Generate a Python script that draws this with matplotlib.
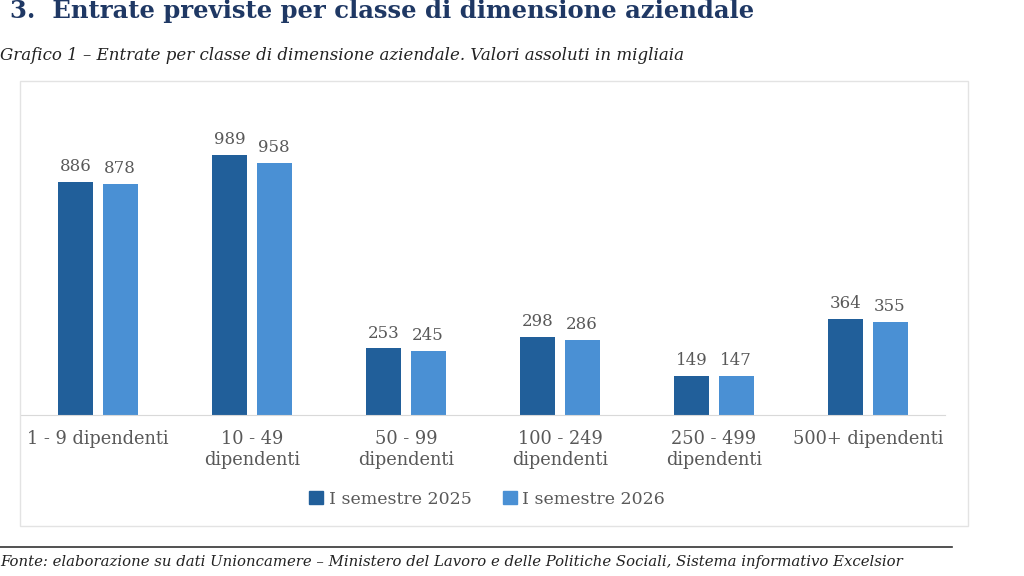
import matplotlib
matplotlib.use("Agg")
import matplotlib.pyplot as plt
import numpy as np
from matplotlib.patches import Rectangle
from matplotlib.lines import Line2D

categories = ["1 - 9 dipendenti", "10 - 49\ndipendenti", "50 - 99\ndipendenti",
              "100 - 249\ndipendenti", "250 - 499\ndipendenti", "500+ dipendenti"]
serie_2025 = [886, 989, 253, 298, 149, 364]
serie_2026 = [878, 958, 245, 286, 147, 355]
labels = ["I semestre 2025", "I semestre 2026"]

col_dark = "#215F9A"
col_light = "#4A90D4"
grey_txt = "#595959"
font = "DejaVu Serif"

W, H = 1024, 576
fig = plt.figure(figsize=(W / 100, H / 100), dpi=100)

# title and subtitle
fig.text(10 / W, 1 - 11 / H, "3.  Entrate previste per classe di dimensione aziendale",
         fontsize=17.5, fontweight="bold", color="#1F3864", family=font, va="center")
fig.text(0 / W, 1 - 55 / H, "Grafico 1 – Entrate per classe di dimensione aziendale. Valori assoluti in migliaia",
         fontsize=12, style="italic", color="#222222", family=font, va="center")

# chart box
fig.patches.append(Rectangle((20 / W, 1 - 526 / H), 948 / W, 445 / H, transform=fig.transFigure,
                             fill=False, edgecolor="#E3E3E3", linewidth=1))

ax = fig.add_axes([21 / W, 1 - 415 / H, 924 / W, 320 / H])
x = np.arange(len(categories))
w = 0.227
off = 0.143
b1 = ax.bar(x - off, serie_2025, w, color=col_dark, label=labels[0])
b2 = ax.bar(x + off, serie_2026, w, color=col_light, label=labels[1])
ax.set_xlim(-0.5, len(categories) - 0.5)
ax.set_ylim(0, 1217)
for bars in (b1, b2):
    ax.bar_label(bars, padding=5, fontsize=12, color=grey_txt, family=font)

for s in ["top", "right", "left"]:
    ax.spines[s].set_visible(False)
ax.spines["bottom"].set_color("#D9D9D9")
ax.set_yticks([])
ax.set_xticks(x)
ax.set_xticklabels(categories, fontsize=12.8, color=grey_txt, family=font, linespacing=1.2)
ax.tick_params(axis="x", length=0, pad=11)

handles = [Rectangle((0, 0), 1, 1, color=col_dark), Rectangle((0, 0), 1, 1, color=col_light)]
fig.legend(handles, labels, loc="center", bbox_to_anchor=(487 / W, 1 - 499 / H), ncol=2,
           frameon=False, prop={"family": font, "size": 12.5}, labelcolor=grey_txt,
           handlelength=0.8, handleheight=0.8, handletextpad=0.3, columnspacing=1.8)

# footer
fig.lines.append(Line2D([0, 952 / W], [1 - 547 / H, 1 - 547 / H], transform=fig.transFigure,
                        color="#333333", linewidth=1.2))
fig.text(0 / W, 1 - 562 / H,
         "Fonte: elaborazione su dati Unioncamere – Ministero del Lavoro e delle Politiche Sociali, Sistema informativo Excelsior",
         fontsize=10.7, style="italic", color="#222222", family=font, va="center")

fig.savefig("out.png", dpi=100)
